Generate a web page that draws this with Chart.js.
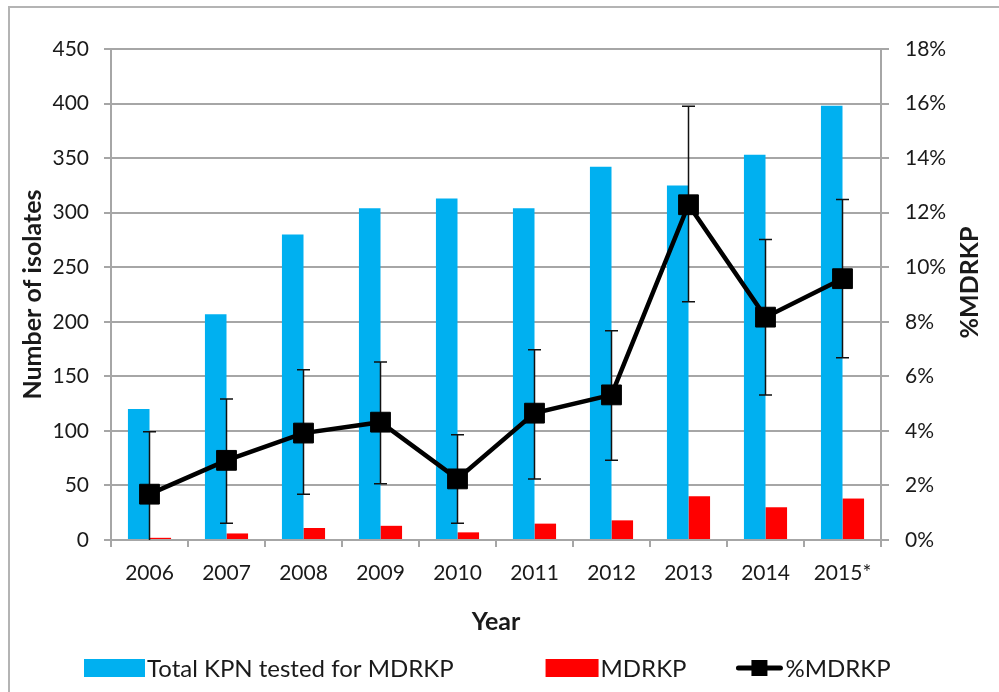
<!DOCTYPE html>
<html><head><meta charset="utf-8">
<script src="https://cdn.jsdelivr.net/npm/chart.js@4/dist/chart.umd.min.js"></script>
<style>
html,body{margin:0;padding:0;background:#fff;}
#wrap{position:relative;width:999px;height:692px;overflow:hidden;}
#frame{position:absolute;left:8px;top:6px;width:1100px;height:800px;border-left:2px solid #b4b4b4;border-top:2px solid #b4b4b4;}
canvas{position:absolute;left:0;top:0;}
</style></head><body>
<div id="wrap"><div id="frame"></div><canvas id="c" width="999" height="692"></canvas></div>
<script>
const years = ['2006','2007','2008','2009','2010','2011','2012','2013','2014','2015*'];
const totalTested = [120,207,280,304,313,304,342,325,353,398];
const mdrkp = [2,6,11,13,7,15,18,40,30,38];
const pctMdrkp = [1.68,2.92,3.92,4.32,2.24,4.65,5.32,12.29,8.17,9.58];
const pctLower = [0,0.61,1.68,2.06,0.61,2.24,2.92,8.73,5.32,6.68];
const pctUpper = [3.97,5.17,6.24,6.53,3.86,6.97,7.67,15.9,11.02,12.48];

const BLUE = '#00B0F0', RED = '#FF0000', GRID = '#a6a6a6', TXT = '#1a1a1a';
const FONT = 'Lato, "Open Sans", sans-serif';

const errorBars = {
  id: 'errorBars',
  beforeDatasetDraw(chart, args) {
    if (args.index !== 2) return;
    const {ctx, scales: {x, y1}} = chart;
    ctx.save();
    ctx.strokeStyle = '#111';
    ctx.lineWidth = 1.5;
    for (let i = 0; i < years.length; i++) {
      const px = x.getPixelForValue(i);
      const lo = y1.getPixelForValue(pctLower[i]);
      const hi = y1.getPixelForValue(pctUpper[i]);
      ctx.beginPath();
      ctx.moveTo(px, lo); ctx.lineTo(px, hi);
      ctx.moveTo(px - 6.5, hi); ctx.lineTo(px + 6.5, hi);
      if (pctLower[i] > 0) { ctx.moveTo(px - 6.5, lo); ctx.lineTo(px + 6.5, lo); }
      ctx.stroke();
    }
    ctx.restore();
  }
};

const rightTitle = {
  id: 'rightTitle',
  afterDraw(chart) {
    const {ctx, chartArea} = chart;
    ctx.save();
    ctx.fillStyle = TXT;
    ctx.font = 'bold 25px ' + FONT;
    ctx.textAlign = 'center';
    ctx.textBaseline = 'middle';
    ctx.translate(chartArea.right + 89, (chartArea.top + chartArea.bottom) / 2 - 12);
    ctx.rotate(-Math.PI / 2);
    ctx.fillText('%MDRKP', 0, 0);
    ctx.restore();
  }
};

// legend drawn below the x axis title, items taken from the chart's datasets
const bottomLegend = {
  id: 'bottomLegend',
  afterDraw(chart) {
    const {ctx} = chart;
    const ds = chart.data.datasets;
    const swW = [61, 53, 48];
    const gapAfter = [92, 49, 0];
    const cy = chart.height - 24;
    let x = 84;
    ctx.save();
    ctx.font = '24px ' + FONT;
    ctx.textBaseline = 'middle';
    ctx.textAlign = 'left';
    ds.forEach((d, i) => {
      const w = swW[i];
      if (d.type === 'line') {
        ctx.strokeStyle = '#000'; ctx.lineWidth = 5; ctx.lineCap = 'round';
        ctx.beginPath(); ctx.moveTo(x + 3, cy); ctx.lineTo(x + w - 3, cy); ctx.stroke();
        ctx.fillStyle = '#000'; ctx.fillRect(x + w / 2 - 8, cy - 8, 16, 16);
      } else {
        ctx.fillStyle = d.backgroundColor;
        ctx.fillRect(x, cy - 9, w, 18);
      }
      x += w + 2;
      ctx.fillStyle = TXT;
      ctx.fillText(d.label, x, cy + 1);
      x += ctx.measureText(d.label).width + gapAfter[i];
    });
    ctx.restore();
  }
};

new Chart(document.getElementById('c'), {
  type: 'bar',
  data: {
    labels: years,
    datasets: [
      { label: 'Total KPN tested for MDRKP', data: totalTested, backgroundColor: BLUE, yAxisID: 'y', order: 1, categoryPercentage: 0.56, barPercentage: 1 },
      { label: 'MDRKP', data: mdrkp, backgroundColor: RED, yAxisID: 'y', order: 2, categoryPercentage: 0.56, barPercentage: 1 },
      { type: 'line', label: '%MDRKP', data: pctMdrkp, yAxisID: 'y1', order: 0,
        borderColor: '#000', borderWidth: 4.5, backgroundColor: '#000',
        pointStyle: 'rect', pointRadius: 14, pointBackgroundColor: '#000', pointBorderColor: '#000', pointBorderWidth: 1,
        tension: 0 }
    ]
  },
  options: {
    responsive: false,
    animation: false,
    devicePixelRatio: 1,
    layout: { padding: { top: 49, bottom: 42, left: 0, right: 0 } },
    plugins: {
      tooltip: { enabled: false },
      legend: { display: false }
    },
    scales: {
      x: {
        offset: true,
        afterFit(s) { s.height = 110; },
        grid: { display: true, drawOnChartArea: false, drawTicks: true, tickLength: 7, color: GRID, lineWidth: 2, offset: true },
        border: { display: true, color: GRID, width: 2 },
        ticks: { color: TXT, font: { family: FONT, size: 21 }, padding: 14, maxRotation: 0 },
        title: { display: true, text: 'Year', color: TXT, font: { family: FONT, size: 25, weight: 'bold' }, padding: { top: 0, bottom: 13 } }
      },
      y: {
        position: 'left',
        min: 0, max: 450,
        afterFit(s) { s.width = 111; },
        ticks: { stepSize: 50, color: TXT, font: { family: FONT, size: 21 }, padding: 15 },
        grid: { color: GRID, lineWidth: 2, tickLength: 7, drawTicks: true },
        border: { display: true, color: GRID, width: 2 },
        title: { display: true, text: 'Number of isolates', color: TXT, font: { family: FONT, size: 25, weight: 'bold' }, padding: { top: 18, bottom: 0 } }
      },
      y1: {
        position: 'right',
        min: 0, max: 18,
        afterFit(s) { s.width = 118; },
        ticks: { stepSize: 2, color: TXT, font: { family: FONT, size: 21 }, padding: 16, callback: v => v + '%' },
        grid: { drawOnChartArea: false, color: GRID, lineWidth: 2, tickLength: 8, drawTicks: true },
        border: { display: true, color: GRID, width: 2 }
      }
    }
  },
  plugins: [errorBars, rightTitle, bottomLegend]
});
</script>
</body></html>
